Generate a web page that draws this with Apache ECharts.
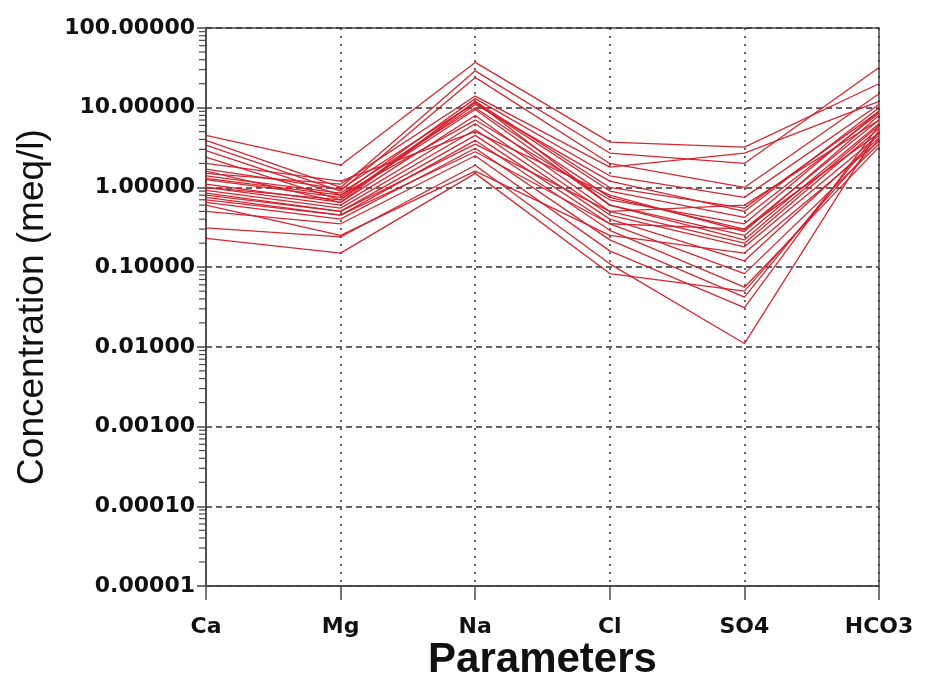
<!DOCTYPE html>
<html>
<head>
<meta charset="utf-8">
<script src="https://cdn.jsdelivr.net/npm/echarts@6/dist/echarts.min.js"></script>
<style>
  html, body { margin: 0; padding: 0; background: #fff; }
  #chart { width: 931px; height: 682px; }
</style>
</head>
<body>
<div id="chart"></div>
<script>
// Schoeller diagram: major ion concentrations (meq/l) per sample
const categories = ['Ca', 'Mg', 'Na', 'Cl', 'SO4', 'HCO3'];

// one value per sample, same sample order in every array
const ca   = [4.5, 3.9, 3.4, 2.9, 2.4, 1.7, 1.4, 1.25, 1.1, 1.0, 0.92, 0.8, 0.75, 0.65, 0.5, 0.31, 0.23, 1.5, 1.3, 1.0, 0.85, 1.6, 0.6, 2.0, 0.7];
const mg   = [1.9, 1.0, 0.9, 0.8, 0.7, 0.95, 0.85, 0.75, 0.65, 0.6, 0.55, 0.5, 0.45, 0.4, 0.35, 0.24, 0.15, 1.1, 0.8, 0.7, 0.5, 0.65, 0.25, 1.2, 0.45];
const na   = [37, 29, 24, 13, 12, 11.5, 10, 9.5, 8, 6.3, 5.3, 4.5, 3.9, 3.1, 2.5, 1.9, 1.5, 14, 7, 11, 3.5, 12, 1.6, 5, 2.8];
const cl   = [3.7, 2.7, 2.0, 1.4, 1.0, 0.9, 0.75, 0.6, 0.5, 0.45, 0.4, 0.35, 0.29, 0.22, 0.16, 0.11, 0.083, 1.8, 0.7, 1.2, 0.5, 0.6, 0.25, 0.8, 0.35];
const so4  = [3.2, 2.0, 1.0, 0.75, 0.55, 0.42, 0.30, 0.25, 0.2, 0.18, 0.12, 0.083, 0.056, 0.042, 0.031, 0.011, 0.05, 2.7, 0.35, 0.5, 0.6, 0.22, 0.15, 0.28, 0.3];
const hco3 = [20, 32, 15, 11, 9, 8.5, 7, 6.3, 5.5, 4.5, 4.2, 3.5, 3.2, 5, 6, 5.2, 4, 12, 9, 10, 7, 6, 3.8, 8, 4.8];

// y-axis range (decades)
const yMin = 0.00001;
const yMax = 100;

// log-spaced minor tick values (2..9 within every decade)
const minorTicks = [];
for (let e = -5; e < 2; e++) {
  for (let m = 2; m <= 9; m++) minorTicks.push(m * Math.pow(10, e));
}

const columns = [ca, mg, na, cl, so4, hco3];
const lineSeries = ca.map((_, i) => ({
  type: 'line',
  data: columns.map(col => col[i]),
  symbol: 'none',
  silent: true,
  lineStyle: { color: '#d41c28', width: 1.3, opacity: 0.95 },
  z: 3
}));

const axisColor = '#4a4a4a';

const option = {
  animation: false,
  backgroundColor: '#ffffff',
  grid: {
    left: 206, right: 52, top: 28, bottom: 96,
    outerBoundsMode: 'none',
    containLabel: false,
    show: true, borderColor: axisColor, borderWidth: 1.5,
    backgroundColor: 'transparent'
  },
  xAxis: {
    type: 'category',
    data: categories,
    boundaryGap: false,
    name: 'Parameters',
    nameLocation: 'middle',
    nameGap: 53,
    nameMoveOverlap: false,
    nameTextStyle: { fontFamily: 'Liberation Sans', fontSize: 42, color: '#111', fontWeight: 'bold' },
    axisLine: { lineStyle: { color: axisColor, width: 1.5 } },
    axisTick: { show: true, length: 14, lineStyle: { color: axisColor, width: 1.5 } },
    axisLabel: {
      margin: 30,
      fontFamily: 'DejaVu Sans', fontWeight: 'bold', fontSize: 22, color: '#111'
    },
    splitLine: { show: true, lineStyle: { color: '#333', width: 1.5, type: [2, 6] } }
  },
  yAxis: {
    type: 'log',
    logBase: 10,
    min: yMin,
    max: yMax,
    interval: 1,
    name: 'Concentration (meq/l)',
    nameLocation: 'middle',
    nameGap: 155,
    nameRotate: 90,
    nameMoveOverlap: false,
    nameTextStyle: { fontFamily: 'Liberation Sans', fontSize: 37, color: '#111' },
    axisLine: { show: true, lineStyle: { color: axisColor, width: 1.5 } },
    axisTick: { show: true, length: 9, lineStyle: { color: axisColor, width: 1.5 } },
    axisLabel: {
      margin: 11,
      fontFamily: 'DejaVu Sans', fontWeight: 'bold', fontSize: 22, color: '#111',
      formatter: v => Number(v).toFixed(5)
    },
    splitLine: { show: true, lineStyle: { color: '#333', width: 1.5, type: [6, 4] } }
  },
  series: [
    ...lineSeries,
    {
      // log-spaced minor ticks on the left axis
      type: 'custom',
      clip: false,
      silent: true,
      data: minorTicks.map(v => [0, v]),
      encode: { x: 0, y: 1 },
      renderItem: (params, api) => {
        const p = api.coord([0, api.value(1)]);
        return {
          type: 'line',
          shape: { x1: p[0] - 7, y1: p[1], x2: p[0], y2: p[1] },
          style: { stroke: axisColor, lineWidth: 1.2 }
        };
      },
      z: 4
    }
  ]
};

const chart = echarts.init(document.getElementById('chart'), null, { renderer: 'canvas' });
chart.setOption(option);
</script>
</body>
</html>
